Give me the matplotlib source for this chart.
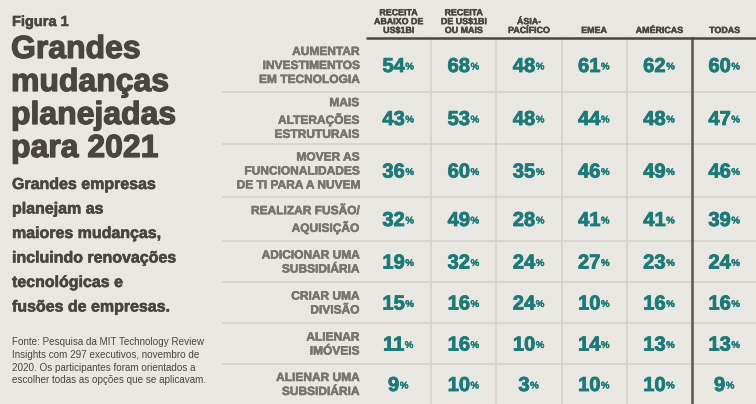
import matplotlib
matplotlib.use("Agg")
import matplotlib.pyplot as plt
import matplotlib.patheffects as pe

# ---------------- data ----------------
col_labels = ["RECEITA\nABAIXO DE\nUS$1BI", "RECEITA\nDE US$1BI\nOU MAIS",
              "ÁSIA-\nPACÍFICO", "EMEA", "AMÉRICAS", "TODAS"]
row_labels = ["AUMENTAR\nINVESTIMENTOS\nEM TECNOLOGIA",
              "MAIS\nALTERAÇÕES\nESTRUTURAIS",
              "MOVER AS\nFUNCIONALIDADES\nDE TI PARA A NUVEM",
              "REALIZAR FUSÃO/\nAQUISIÇÃO",
              "ADICIONAR UMA\nSUBSIDIÁRIA",
              "CRIAR UMA\nDIVISÃO",
              "ALIENAR\nIMÓVEIS",
              "ALIENAR UMA\nSUBSIDIÁRIA"]
below_1bi = [54, 43, 36, 32, 19, 15, 11, 9]
above_1bi = [68, 53, 60, 49, 32, 16, 16, 10]
asia_pac = [48, 48, 35, 28, 24, 24, 10, 3]
emea = [61, 44, 46, 41, 27, 10, 14, 10]
americas = [62, 48, 49, 41, 23, 16, 13, 10]
todas = [60, 47, 46, 39, 24, 16, 13, 9]
series = [below_1bi, above_1bi, asia_pac, emea, americas, todas]

fig_label = "Figura 1"
title_lines = ["Grandes", "mudanças", "planejadas", "para 2021"]
subtitle_lines = ["Grandes empresas", "planejam as", "maiores mudanças,",
                  "incluindo renovações", "tecnológicas e", "fusões de empresas."]
source_lines = ["Fonte: Pesquisa da MIT Technology Review",
                "Insights com 297 executivos, novembro de",
                "2020. Os participantes foram orientados a",
                "escolher todas as opções que se aplicavam."]

# ---------------- style ----------------
BG = "#e9e7e2"
DARK = "#4b4540"
GREY = "#78746f"
TEAL = "#1d7a78"
GRID = "#d2d0cb"
FONT = "Liberation Sans"


def heavy(color, w=0.7):
    return [pe.withStroke(linewidth=w, foreground=color)]


W, H = 756, 404
fig = plt.figure(figsize=(W / 100, H / 100), dpi=100, facecolor=BG)
ax = fig.add_axes([0, 0, 1, 1])
ax.set_xlim(0, W)
ax.set_ylim(H, 0)
ax.axis("off")
ax.set_facecolor(BG)

# table geometry (pixels)
x0 = 366
cw = 65.2
row_edges = [38, 92, 144, 197, 241, 282, 323, 364, 404]
label_right = 359
sep_left = 222

ncol = len(col_labels)
col_centers = [x0 + cw * (i + 0.5) for i in range(ncol)]

# grid lines
for y in row_edges[1:-1]:
    ax.plot([sep_left, W], [y, y], color=GRID, lw=1.1, solid_capstyle="butt")
for i in range(1, ncol - 1):
    x = x0 + cw * i
    ax.plot([x, x], [row_edges[0], H], color=GRID, lw=1.1)
xt = x0 + cw * (ncol - 1)
ax.plot([xt, xt], [row_edges[0], H], color="#5a5550", lw=1.8)
ax.plot([x0, W], [row_edges[0], row_edges[0]], color="#4b4540", lw=1.8,
        solid_capstyle="butt")

# column headers
for cx, lab in zip(col_centers, col_labels):
    ax.text(cx, 33, lab, ha="center", va="baseline", fontsize=6.4,
            fontweight="bold", color=DARK, family=FONT, linespacing=0.98,
            path_effects=heavy(DARK, 0.3))

# row labels and values
for r, lab in enumerate(row_labels):
    yc = (row_edges[r] + row_edges[r + 1]) / 2
    ax.text(label_right, yc + 1, lab, ha="right", va="center", fontsize=8.6,
            fontweight="bold", color=GREY, family=FONT, linespacing=1.22,
            path_effects=heavy(GREY, 0.4))
    for c, cx in enumerate(col_centers):
        v = series[c][r]
        t = ax.text(cx - 5, yc + 1.5, f"{v}", ha="center", va="center",
                    fontsize=14.5, fontweight="bold", color=TEAL, family=FONT,
                    path_effects=heavy(TEAL, 0.6))
        ax.annotate("%", xy=(1, 1), xycoords=t, xytext=(0.4, -3.2),
                    textcoords="offset points", ha="left", va="top",
                    fontsize=7, fontweight="bold", color=TEAL, family=FONT,
                    path_effects=heavy(TEAL, 0.25))

# left text block
ax.text(12, 26, fig_label, ha="left", va="baseline", fontsize=10.5,
        fontweight="bold", color=DARK, family=FONT,
        path_effects=heavy(DARK, 0.4))
for i, line in enumerate(title_lines):
    ax.text(11, 58 + i * 33, line, ha="left", va="baseline", fontsize=23,
            fontweight="bold", color=DARK, family=FONT,
            path_effects=heavy(DARK, 0.9))
for i, line in enumerate(subtitle_lines):
    ax.text(12, 189 + i * 24.5, line, ha="left", va="baseline", fontsize=11.5,
            fontweight="bold", color=DARK, family=FONT,
            path_effects=heavy(DARK, 0.4))
for i, line in enumerate(source_lines):
    ax.text(12, 345 + i * 12.8, line, ha="left", va="baseline", fontsize=7.1,
            color=DARK, family=FONT)

fig.savefig("out.png", dpi=100, facecolor=BG)
